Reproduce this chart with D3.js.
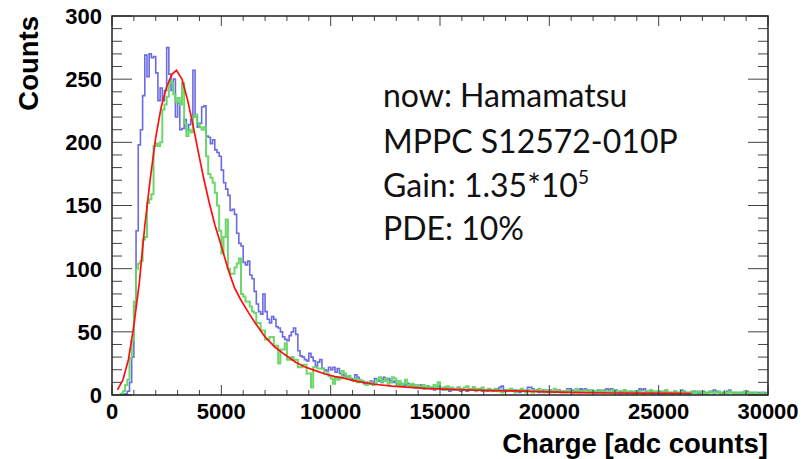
<!DOCTYPE html>
<html><head><meta charset="utf-8">
<script src="https://cdn.jsdelivr.net/npm/d3@7"></script>
<style>body{margin:0;background:#fff}svg{display:block}</style>
</head><body>
<svg id="c" width="805" height="459"></svg>
<script>
// ---- data ----
const binWidth = 100;          // adc counts per bin
const xDomain = [0, 30000];
const yDomain = [0, 300];
const xTicks = [0, 5000, 10000, 15000, 20000, 25000, 30000];
const yTicks = [0, 50, 100, 150, 200, 250, 300];
const xTitle = "Charge [adc counts]";
const yTitle = "Counts";

const blueCounts = [
0,0,0,0,0,0,1,3,10,30,70,130,198,210,237,269,252,270,267,268,
255,233,243,233,241,275,254,241,250,220,231,210,211,218,210,214,218,257,220,212,
215,228,229,205,204,199,202,194,192,189,178,168,163,158,146,147,143,128,120,118,
105,103,106,95,92,82,72,66,64,80,66,60,57,62,60,54,53,50,46,44,
43,47,50,53,48,35,31,30,28,27,33,30,27,23,26,28,21,20,19,22,
20,22,18,21,17,16,15,14,15,13,12,16,14,12,11,9,10,9,11,10,
13,12,11,10,14,12,13,11,10,11,9,8,9,7,8,9,7,8,6,7,
6,8,5,6,7,5,6,4,5,6,5,4,6,5,3,4,5,4,6,3,
5,4,3,5,4,6,3,4,5,3,4,3,5,4,3,4,5,6,7,4,
3,4,5,3,4,3,2,4,3,4,6,6,5,3,4,2,3,4,3,2,
4,3,2,3,4,2,3,3,5,5,4,2,3,2,5,4,5,4,3,2,
3,2,4,3,2,4,5,4,5,3,4,2,3,2,3,1,2,3,2,3,
2,5,4,5,3,2,3,1,2,2,3,2,1,3,2,2,1,3,2,1,
4,3,2,2,1,2,3,2,1,2,3,1,2,2,3,4,3,2,1,2,
2,3,4,2,1,2,1,2,2,1,3,2,1,2,1,2,2,1,2,1];

const greenCounts = [
0,0,0,0,1,3,8,12,29,43,74,100,104,106,123,125,152,155,159,197,
199,197,200,226,230,236,249,247,238,232,235,230,247,215,205,210,208,220,222,215,
212,210,212,189,175,172,168,160,150,130,112,125,139,100,96,96,101,104,108,80,
78,74,74,70,66,65,57,57,51,51,44,44,46,46,39,39,25,36,36,41,
28,28,30,28,28,22,22,24,24,17,17,6,22,22,21,21,21,17,17,15,
13,9,14,12,13,19,17,14,15,12,11,13,10,12,11,10,8,9,10,8,
9,12,14,10,11,13,9,10,14,13,8,11,7,9,12,8,7,9,6,8,
7,6,8,5,7,6,5,8,6,10,5,6,4,7,5,6,5,4,6,5,
4,6,7,5,4,6,3,5,4,6,3,4,5,3,4,5,3,4,2,3,
4,3,5,4,2,3,4,5,3,2,4,3,2,4,3,5,3,2,4,3,
2,3,5,4,3,2,3,2,4,3,2,3,5,3,2,3,4,2,3,4,
3,2,3,4,2,3,2,3,2,4,3,2,1,3,4,2,3,2,1,3,
2,3,2,1,3,2,4,3,2,3,1,2,3,4,2,1,2,3,2,1,
2,3,2,1,2,3,1,2,3,2,1,2,1,3,2,1,2,3,2,1,
2,1,3,2,1,2,1,2,1,3,2,1,2,1,2,1,1,2,1,1];

// fitted curve: [charge, counts]
const fitCharge = [250,500,750,1000,1250,1500,1750,2000,2250,2500,2750,2950,3200,3450,3700,3950,4200,4450,4700,5000,5300,5600,5900,6250,6550,7000,7450,7900,8400,8800,9300,9750,10200,10500,11250,12000,12800,14300,15800,17400,18400,19900,21400,22900,26000,26500];
const fitCounts = [4,12,28,55,89,134,171,204,228,244,254,257,250,234,214,192,171,152,135,118,100,85,75,65,57,46,38,32,26,22.4,19.3,16.6,14.5,13.7,10.6,8.5,7.1,5.3,4.2,3.5,3.2,2.4,1.9,1.6,1.3,1.2];

const noteLines = ["now: Hamamatsu", "MPPC S12572-010P", "Gain: 1.35*10", "PDE: 10%"];
const noteSup = "5";

// ---- layout ----
const svg = d3.select("#c");
const L = 112, R = 768, T = 16, B = 395;
const x = d3.scaleLinear().domain(xDomain).range([L, R]);
const y = d3.scaleLinear().domain(yDomain).range([B, T]);

svg.append("clipPath").attr("id","clip").append("rect")
  .attr("x", L).attr("y", T).attr("width", R-L).attr("height", B-T);

function stepPath(counts){
  let p = `M${x(0)},${y(0)}`;
  counts.forEach((v,i)=>{
    const x0 = x(i*binWidth), x1 = x((i+1)*binWidth);
    p += `L${x0},${y(v)}L${x1},${y(v)}`;
  });
  return p;
}
const g = svg.append("g").attr("clip-path","url(#clip)");
g.append("path").attr("d", stepPath(blueCounts))
  .attr("fill","none").attr("stroke","#6262e0").attr("stroke-width",1.6).attr("stroke-opacity",0.95);
g.append("path").attr("d", stepPath(greenCounts))
  .attr("fill","none").attr("stroke","#64d664").attr("stroke-width",2).attr("stroke-opacity",0.95);
const fit = fitCharge.map((c,i)=>[c, fitCounts[i]]);
g.append("path").attr("d", d3.line().x(d=>x(d[0])).y(d=>y(d[1]))(fit))
  .attr("fill","none").attr("stroke","#ff1010").attr("stroke-width",1.7);

// ---- axes (ROOT style: ticks inside, on all four sides) ----
const xMinor = d3.range(0, 30001, 1000);
const yMinor = d3.range(0, 301, 10);
const tickG = svg.append("g").attr("stroke","#444").attr("stroke-width",1);
xMinor.forEach(v=>{
  const len = (v % 5000 === 0) ? 10 : 5;
  tickG.append("line").attr("x1",x(v)).attr("x2",x(v)).attr("y1",B).attr("y2",B-len);
  tickG.append("line").attr("x1",x(v)).attr("x2",x(v)).attr("y1",T).attr("y2",T+len);
});
yMinor.forEach(v=>{
  const len = (v % 50 === 0) ? 20 : 10;
  tickG.append("line").attr("y1",y(v)).attr("y2",y(v)).attr("x1",L).attr("x2",L+len);
  tickG.append("line").attr("y1",y(v)).attr("y2",y(v)).attr("x1",R).attr("x2",R-len);
});
svg.append("rect").attr("x",L).attr("y",T).attr("width",R-L).attr("height",B-T)
  .attr("fill","none").attr("stroke","#222").attr("stroke-width",1.5);

const lab = {"font-family":"'Liberation Sans', Arial, Helvetica, sans-serif","font-weight":"bold","fill":"#000"};
const xl = svg.append("g").selectAll("text").data(xTicks).join("text")
  .attr("x", d=>x(d)).attr("y", 418.5).attr("text-anchor","middle").attr("font-size",22).text(d=>d);
const yl = svg.append("g").selectAll("text").data(yTicks).join("text")
  .attr("x", 102).attr("y", d=>y(d)).attr("dy","0.36em").attr("text-anchor","end").attr("font-size",22).text(d=>d);
[xl, yl].forEach(s=>Object.entries(lab).forEach(([k,v])=>s.attr(k,v)));

const xt = svg.append("text").attr("x", R).attr("y", 453).attr("text-anchor","end").attr("font-size",27.5).text(xTitle);
const yt = svg.append("text").attr("transform","translate(38,16) rotate(-90)").attr("text-anchor","end").attr("font-size",27.5).text(yTitle);
[xt, yt].forEach(s=>Object.entries(lab).forEach(([k,v])=>s.attr(k,v)));

// ---- annotation ----
const noteY = [106.7, 153, 196.7, 240];
const note = svg.append("g").attr("font-family","Lato, 'Open Sans', sans-serif").attr("font-size",32).attr("fill","#111");
noteLines.forEach((t,i)=>{
  const tx = note.append("text").attr("x",383).attr("y",noteY[i]).text(t);
  if (i === 2) tx.append("tspan").attr("font-size",19).attr("dy",-13).text(noteSup);
});
</script>
</body></html>
